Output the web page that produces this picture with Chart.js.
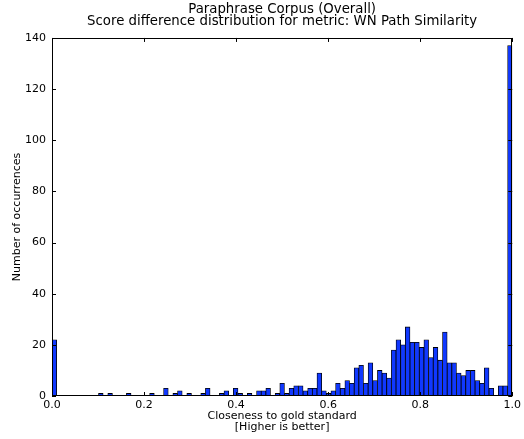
<!DOCTYPE html>
<html>
<head>
<meta charset="utf-8">
<title>Paraphrase Corpus (Overall)</title>
<script src="https://cdn.jsdelivr.net/npm/chart.js@4.4.1/dist/chart.umd.min.js"></script>
<style>
    html, body { margin: 0; padding: 0; background: #fff; }
    #scoreHistChart { display: block; }
</style>
</head>
<body>
<canvas id="scoreHistChart" width="524" height="439"></canvas>
<script>
// Histogram: 99 equal bins over [0, 1], counts left to right
const binRange = [0, 1];
const counts = [
    22, 0, 0, 0, 0, 0, 0, 0, 0, 0,
    1, 0, 1, 0, 0, 0, 1, 0, 0, 0,
    0, 1, 0, 0, 3, 0, 1, 2, 0, 1,
    0, 0, 1, 3, 0, 0, 1, 2, 0, 3,
    1, 0, 1, 0, 2, 2, 3, 0, 1, 5,
    1, 3, 4, 4, 2, 3, 3, 9, 2, 1,
    2, 5, 3, 6, 5, 11, 12, 5, 13, 6,
    10, 9, 7, 18, 22, 20, 27, 21, 21, 19,
    22, 15, 19, 14, 25, 13, 13, 9, 8, 10,
    10, 6, 5, 11, 3, 0, 4, 4, 137
];
const xTicks = [0.0, 0.2, 0.4, 0.6, 0.8, 1.0];
const yTicks = [0, 20, 40, 60, 80, 100, 120, 140];

const titleLines = [
    'Paraphrase Corpus (Overall)',
    'Score difference distribution for metric: WN Path Similarity'
];
const xTitleLines = ['Closeness to gold standard', '[Higher is better]'];
const yTitle = 'Number of occurrences';

const ScoreHistogram = (function() {
    'use strict';

    const COLORS = {
        bar: '#1038ff',
        edge: '#000000',
        text: '#000000'
    };

    const TICK_LEN = 4;

    // Frame around the plot plus inward tick marks on all four sides
    const frameTicks = {
        id: 'frameTicks',
        afterDatasetsDraw(chart) {
            const { ctx, chartArea: a, scales } = chart;
            const x = scales.x;
            const y = scales.y;

            ctx.save();
            ctx.strokeStyle = '#000';
            ctx.lineWidth = 1;
            ctx.beginPath();
            xTicks.forEach(v => {
                const px = Math.round(x.getPixelForValue(v)) + 0.5;
                ctx.moveTo(px, a.bottom);
                ctx.lineTo(px, a.bottom - TICK_LEN);
                ctx.moveTo(px, a.top);
                ctx.lineTo(px, a.top + TICK_LEN);
            });
            yTicks.forEach(v => {
                const py = Math.round(y.getPixelForValue(v)) + 0.5;
                ctx.moveTo(a.left, py);
                ctx.lineTo(a.left + TICK_LEN, py);
                ctx.moveTo(a.right, py);
                ctx.lineTo(a.right - TICK_LEN, py);
            });
            ctx.stroke();
            ctx.strokeRect(Math.round(a.left) + 0.5, Math.round(a.top) + 0.5,
                Math.round(a.right - a.left) - 1, Math.round(a.bottom - a.top) - 1);
            ctx.restore();
        }
    };

    function buildPoints() {
        const width = (binRange[1] - binRange[0]) / counts.length;
        return counts.map((c, i) => ({ x: binRange[0] + (i + 0.5) * width, y: c }));
    }

    function init() {
        Chart.defaults.font.family = "'DejaVu Sans', sans-serif";
        Chart.defaults.color = COLORS.text;

        const ctx = document.getElementById('scoreHistChart');
        if (!ctx) return;

        new Chart(ctx, {
            type: 'bar',
            data: {
                datasets: [{
                    data: buildPoints(),
                    backgroundColor: COLORS.bar,
                    borderColor: COLORS.edge,
                    borderWidth: 0.8,
                    borderSkipped: false,
                    barPercentage: 1,
                    categoryPercentage: 1
                }]
            },
            options: {
                responsive: false,
                animation: false,
                devicePixelRatio: 1,
                layout: {
                    padding: { left: 0, right: 9, top: 0, bottom: 0 }
                },
                plugins: {
                    legend: { display: false },
                    tooltip: { enabled: false },
                    title: {
                        display: true,
                        text: titleLines,
                        fullSize: false,
                        color: COLORS.text,
                        font: { size: 13.3, weight: 'normal', lineHeight: 0.9 },
                        padding: { top: 4, bottom: 10 }
                    }
                },
                scales: {
                    x: {
                        type: 'linear',
                        min: binRange[0],
                        max: binRange[1],
                        offset: false,
                        grid: { display: false, drawTicks: false },
                        border: { display: false },
                        afterBuildTicks: function(scale) {
                            scale.ticks = xTicks.map(v => ({ value: v }));
                        },
                        afterFit: function(scale) {
                            scale.height = 43;
                        },
                        ticks: {
                            padding: 3,
                            maxRotation: 0,
                            font: { size: 11 },
                            callback: function(value) {
                                return Number(value).toFixed(1);
                            }
                        },
                        title: {
                            display: true,
                            text: xTitleLines,
                            font: { size: 11, lineHeight: 1 },
                            padding: { top: 0, bottom: 6 }
                        }
                    },
                    y: {
                        min: 0,
                        max: 140,
                        grid: { display: false, drawTicks: false },
                        border: { display: false },
                        afterBuildTicks: function(scale) {
                            scale.ticks = yTicks.map(v => ({ value: v }));
                        },
                        afterFit: function(scale) {
                            scale.width = 52;
                        },
                        ticks: {
                            padding: 6,
                            font: { size: 11 }
                        },
                        title: {
                            display: true,
                            text: yTitle,
                            font: { size: 11, lineHeight: 1.2 },
                            padding: { top: 11, bottom: 0 }
                        }
                    }
                }
            },
            plugins: [frameTicks]
        });
    }

    return {
        init: init
    };

})();

document.addEventListener('DOMContentLoaded', ScoreHistogram.init);
</script>
</body>
</html>
